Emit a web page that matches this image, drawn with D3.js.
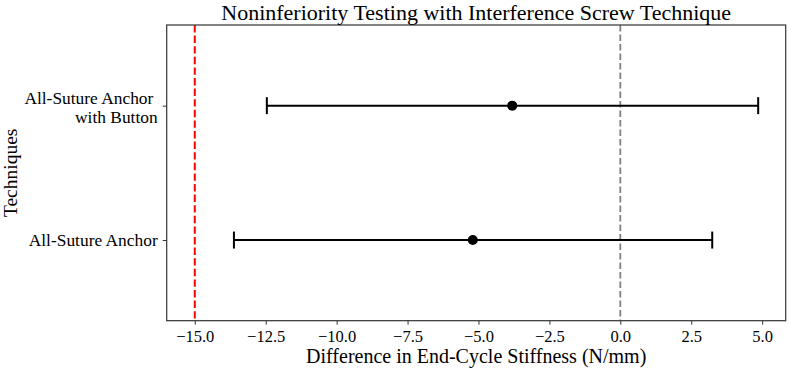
<!DOCTYPE html>
<html>
<head>
<meta charset="utf-8">
<script src="https://cdn.jsdelivr.net/npm/d3@7"></script>
<style>
  body { margin: 0; background: #fff; }
  text { font-family: "Liberation Serif", "DejaVu Serif", serif; fill: #000; }
</style>
</head>
<body>
<div id="main"></div>
<script>
// chart data
const techniques = ["All-Suture Anchor", "All-Suture Anchor \nwith Button"];
const meanDiff = [-5.20, -3.81];
const ciLower = [-13.62, -12.46];
const ciUpper = [3.24, 4.86];
const margin_NI = -15;
const xTicks = [-15, -12.5, -10, -7.5, -5, -2.5, 0, 2.5, 5];

const W = 789, H = 373;
const margin = { top: 25, right: 3.3, bottom: 52.3, left: 166.7 };

const svg = d3.select('#main').append('svg')
    .attr('width', W)
    .attr('height', H);

const x = d3.scaleLinear()
    .domain([-15.99, 5.83])
    .range([margin.left, W - margin.right]);

const y = d3.scaleLinear()
    .domain([-0.6, 1.6])
    .range([H - margin.bottom, margin.top]);

const fmt = d => d3.format('.1f')(d).replace('-', '\u2212');

// x axis
const xAxis = svg.append('g')
    .attr('transform', `translate(0,${H - margin.bottom})`)
    .call(d3.axisBottom(x).tickValues(xTicks).tickFormat(fmt).tickSizeOuter(0).tickSize(4).tickPadding(6));
xAxis.select('.domain').remove();
xAxis.selectAll('line').attr('stroke', '#333').attr('stroke-width', 1);
xAxis.selectAll('text').style('font-family', '"Liberation Serif", serif').style('font-size', '16.5px').attr('fill', '#000');

// y axis
const yAxis = svg.append('g')
    .attr('transform', `translate(${margin.left},0)`)
    .call(d3.axisLeft(y).tickValues([0, 1]).tickFormat('').tickSizeOuter(0).tickSize(4));
yAxis.select('.domain').remove();
yAxis.selectAll('line').attr('stroke', '#333').attr('stroke-width', 1);

// y tick labels (multi-line)
techniques.forEach((t, i) => {
    const lines = t.split('\n');
    const lh = 18.5;
    const txt = svg.append('text')
        .attr('text-anchor', 'end')
        .style('font-size', '17.4px')
        .style('white-space', 'pre')
        .attr('x', margin.left - 9)
        .attr('y', y(i) - (lines.length - 1) * lh / 2 + (lines.length - 1) * 2);
    lines.forEach((l, j) => {
        txt.append('tspan')
            .attr('x', margin.left - 9)
            .attr('dy', j === 0 ? '0.35em' : lh)
            .text(l);
    });
});

// reference lines
svg.append('line')
    .attr('x1', x(margin_NI)).attr('x2', x(margin_NI))
    .attr('y1', margin.top).attr('y2', H - margin.bottom)
    .attr('stroke', '#ff0000').attr('stroke-width', 2)
    .attr('stroke-dasharray', '7.4,3.2');

svg.append('line')
    .attr('x1', x(0)).attr('x2', x(0))
    .attr('y1', margin.top).attr('y2', H - margin.bottom)
    .attr('stroke', '#808080').attr('stroke-width', 1.8)
    .attr('stroke-dasharray', '6.6,2.9');

// error bars
const g = svg.append('g');
techniques.forEach((t, i) => {
    const yy = y(i);
    g.append('line')
        .attr('x1', x(ciLower[i])).attr('x2', x(ciUpper[i]))
        .attr('y1', yy).attr('y2', yy)
        .attr('stroke', '#000').attr('stroke-width', 2);
    [ciLower[i], ciUpper[i]].forEach(v => {
        g.append('line')
            .attr('x1', x(v)).attr('x2', x(v))
            .attr('y1', yy - 8.5).attr('y2', yy + 8.5)
            .attr('stroke', '#000').attr('stroke-width', 2);
    });
    g.append('circle')
        .attr('cx', x(meanDiff[i]))
        .attr('cy', yy)
        .attr('r', 5)
        .attr('fill', '#000');
});

// frame
svg.append('rect')
    .attr('x', margin.left).attr('y', margin.top)
    .attr('width', W - margin.left - margin.right)
    .attr('height', H - margin.top - margin.bottom)
    .attr('fill', 'none')
    .attr('stroke', '#333')
    .attr('stroke-width', 1.2);

// titles
svg.append('text')
    .attr('x', (margin.left + W - margin.right) / 2)
    .attr('y', 19.5)
    .attr('text-anchor', 'middle')
    .style('font-size', '22px')
    .text('Noninferiority Testing with Interference Screw Technique');

svg.append('text')
    .attr('x', (margin.left + W - margin.right) / 2)
    .attr('y', 363)
    .attr('text-anchor', 'middle')
    .style('font-size', '20px')
    .text('Difference in End-Cycle Stiffness (N/mm)');

svg.append('text')
    .attr('transform', `translate(16.5,${(margin.top + H - margin.bottom) / 2}) rotate(-90)`)
    .attr('text-anchor', 'middle')
    .style('font-size', '19.5px')
    .text('Techniques');
</script>
</body>
</html>
